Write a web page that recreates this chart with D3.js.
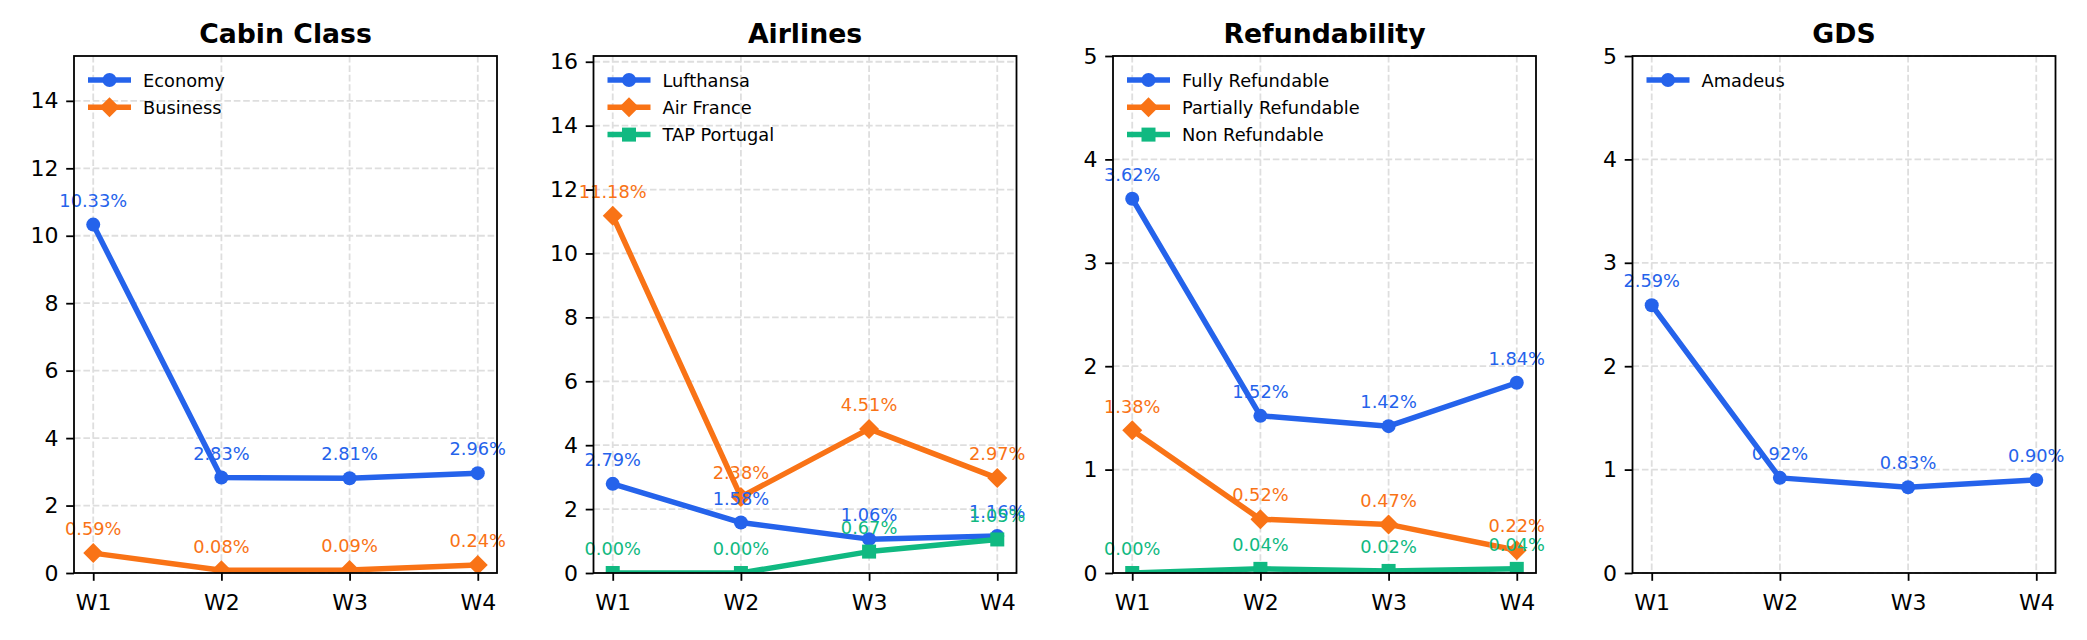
<!DOCTYPE html>
<html>
<head>
<meta charset="utf-8">
<script src="https://cdn.jsdelivr.net/npm/d3@7"></script>
<style>
  html, body { margin: 0; padding: 0; background: #fff; }
  svg { display: block; font-family: "DejaVu Sans", sans-serif; }
</style>
</head>
<body>
<svg id="chart" width="2087" height="640"></svg>
<script>
// ---- Data ----
const weeks = ["W1", "W2", "W3", "W4"];

const panelTitles = ["Cabin Class", "Airlines", "Refundability", "GDS"];

// Cabin Class
const cabinSeries = ["Economy", "Business"];
const economy = [10.33, 2.83, 2.81, 2.96];
const business = [0.59, 0.08, 0.09, 0.24];

// Airlines
const airlineSeries = ["Lufthansa", "Air France", "TAP Portugal"];
const lufthansa = [2.79, 1.58, 1.06, 1.16];
const airFrance = [11.18, 2.38, 4.51, 2.97];
const tapPortugal = [0.00, 0.00, 0.67, 1.05];

// Refundability
const refundSeries = ["Fully Refundable", "Partially Refundable", "Non Refundable"];
const fullyRefundable = [3.62, 1.52, 1.42, 1.84];
const partiallyRefundable = [1.38, 0.52, 0.47, 0.22];
const nonRefundable = [0.00, 0.04, 0.02, 0.04];

// GDS
const gdsSeries = ["Amadeus"];
const amadeus = [2.59, 0.92, 0.83, 0.90];

// y-axis upper limits and ticks
const yMax = [15.33, 16.18, 5, 5];
const yTicks = [
  [0, 2, 4, 6, 8, 10, 12, 14],
  [0, 2, 4, 6, 8, 10, 12, 14, 16],
  [0, 1, 2, 3, 4, 5],
  [0, 1, 2, 3, 4, 5]
];

const panels = [
  { names: cabinSeries, values: [economy, business] },
  { names: airlineSeries, values: [lufthansa, airFrance, tapPortugal] },
  { names: refundSeries, values: [fullyRefundable, partiallyRefundable, nonRefundable] },
  { names: gdsSeries, values: [amadeus] }
];

// ---- Styles ----
const colors = ["#2563eb", "#f97316", "#10b981"];
const markers = ["circle", "diamond", "square"];

const lefts = [74, 593.5, 1113, 1632.5];
const W = 423, TOP = 56, BOTTOM = 573;
const H = BOTTOM - TOP;

const svg = d3.select("#chart");
const defs = svg.append("defs");

function drawMarker(g, type, x, y, color) {
  if (type === "circle") {
    g.append("circle").attr("cx", x).attr("cy", y).attr("r", 7).attr("fill", color);
  } else if (type === "diamond") {
    const r = 10;
    g.append("path")
      .attr("d", `M${x},${y - r}L${x + r},${y}L${x},${y + r}L${x - r},${y}Z`)
      .attr("fill", color);
  } else {
    const s = 7;
    g.append("rect").attr("x", x - s).attr("y", y - s).attr("width", 2 * s).attr("height", 2 * s)
      .attr("fill", color);
  }
}

panels.forEach((p, i) => {
  const g = svg.append("g").attr("transform", `translate(${lefts[i]},${TOP})`);
  const x = d3.scaleLinear().domain([-0.15, 3.15]).range([0, W]);
  const y = d3.scaleLinear().domain([0, yMax[i]]).range([H, 0]);

  defs.append("clipPath").attr("id", "clip" + i)
    .append("rect").attr("x", 0).attr("y", 0).attr("width", W).attr("height", H);

  // grid
  const grid = g.append("g");
  yTicks[i].forEach(t => {
    grid.append("line").attr("x1", 0).attr("x2", W).attr("y1", y(t)).attr("y2", y(t))
      .attr("stroke", "#dedede").attr("stroke-width", 1.8).attr("stroke-dasharray", "6.6,2.8");
  });
  weeks.forEach((w, k) => {
    grid.append("line").attr("x1", x(k)).attr("x2", x(k)).attr("y1", 0).attr("y2", H)
      .attr("stroke", "#dedede").attr("stroke-width", 1.8).attr("stroke-dasharray", "6.6,2.8");
  });

  // axes
  const yAxis = d3.axisLeft(y).tickValues(yTicks[i]).tickFormat(d3.format("d"))
    .tickSize(7.8).tickPadding(7.8);
  const xAxis = d3.axisBottom(x).tickValues([0, 1, 2, 3]).tickFormat(k => weeks[k])
    .tickSize(7.8).tickPadding(7.8);

  const ya = g.append("g").call(yAxis);
  const xa = g.append("g").attr("transform", `translate(0,${H})`).call(xAxis);
  [ya, xa].forEach(a => {
    a.select(".domain").remove();
    a.selectAll(".tick line").attr("stroke", "#000").attr("stroke-width", 1.8);
    a.selectAll(".tick text").attr("fill", "#000").style("font-size", "22px")
      .style("font-family", "DejaVu Sans");
  });
  xa.selectAll(".tick text").attr("dy", "0.95em");

  // lines + markers (clipped)
  const plot = g.append("g").attr("clip-path", `url(#clip${i})`);
  const line = d3.line().x((d, k) => x(k)).y(d => y(d));
  p.values.forEach((vals, s) => {
    const sg = plot.append("g");
    sg.append("path").datum(vals).attr("d", line).attr("fill", "none")
      .attr("stroke", colors[s]).attr("stroke-width", 5.5).attr("stroke-linejoin", "round")
      .attr("stroke-linecap", "butt");
    vals.forEach((v, k) => drawMarker(sg, markers[s], x(k), y(v), colors[s]));
  });

  // value labels
  p.values.forEach((vals, s) => {
    vals.forEach((v, k) => {
      g.append("text").attr("x", x(k)).attr("y", y(v) - 17.8)
        .attr("text-anchor", "middle").attr("fill", colors[s])
        .style("font-size", "17.8px").text(v.toFixed(2) + "%");
    });
  });

  // spines
  g.append("rect").attr("x", 0).attr("y", 0).attr("width", W).attr("height", H)
    .attr("fill", "none").attr("stroke", "#000").attr("stroke-width", 1.8);

  // title
  g.append("text").attr("x", W / 2).attr("y", -13.3).attr("text-anchor", "middle")
    .style("font-size", "26.7px").style("font-weight", "bold").attr("fill", "#000")
    .text(panelTitles[i]);

  // legend
  p.names.forEach((name, s) => {
    const ly = 24 + s * 27.3;
    const lg = g.append("g");
    lg.append("line").attr("x1", 14).attr("x2", 57).attr("y1", ly).attr("y2", ly)
      .attr("stroke", colors[s]).attr("stroke-width", 5.5);
    drawMarker(lg, markers[s], 35.5, ly, colors[s]);
    lg.append("text").attr("x", 69).attr("y", ly + 6.5).attr("fill", "#000")
      .style("font-size", "17.8px").text(name);
  });
});
</script>
</body>
</html>
